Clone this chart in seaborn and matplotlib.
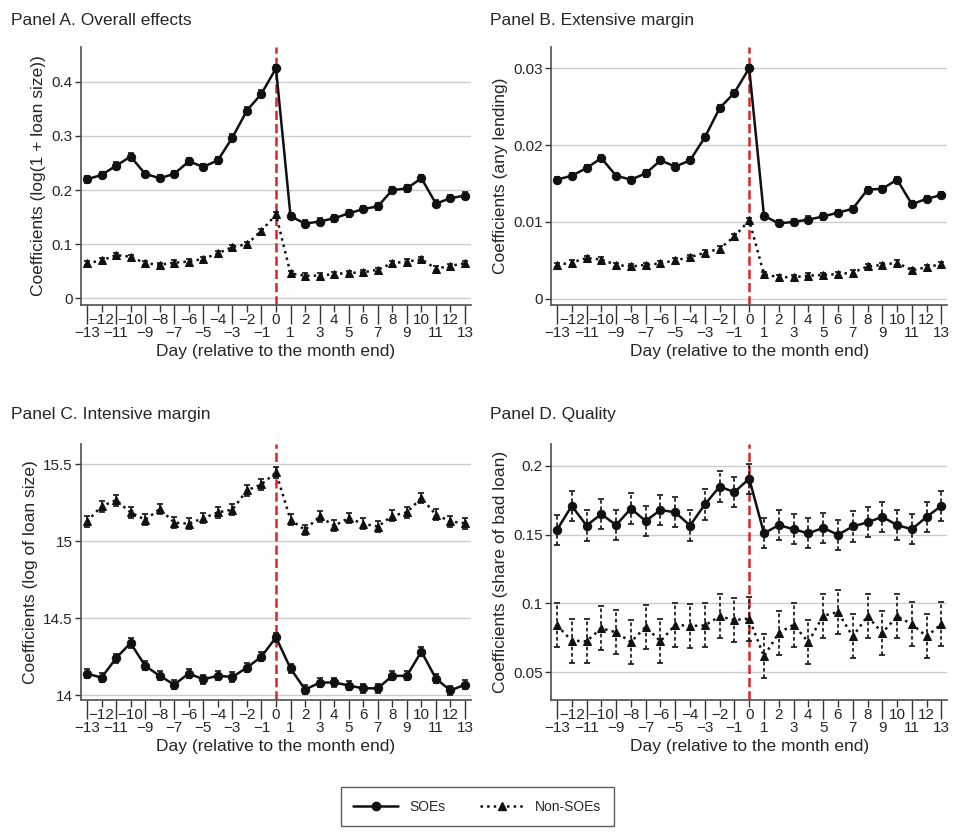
import numpy as np
import matplotlib
matplotlib.use("Agg")
import matplotlib.pyplot as plt
import seaborn as sns
import pandas as pd
from matplotlib.lines import Line2D

days = list(range(-13, 14))

a_soe = [.220, .228, .245, .262, .230, .222, .230, .253, .243, .255, .297, .347, .378, .425,
         .152, .138, .142, .148, .157, .165, .170, .200, .203, .222, .175, .185, .190]
a_non = [.065, .070, .080, .077, .065, .062, .066, .068, .073, .083, .095, .100, .125, .155,
         .046, .042, .042, .045, .047, .048, .053, .065, .068, .072, .055, .060, .065]
b_soe = [.0155, .0160, .0170, .0183, .0160, .0155, .0163, .0180, .0172, .0180, .0210, .0248, .0268, .0300,
         .0108, .0098, .0100, .0103, .0107, .0112, .0117, .0142, .0143, .0155, .0123, .0130, .0135]
b_non = [.0044, .0047, .0053, .0051, .0044, .0042, .0044, .0046, .0050, .0054, .0060, .0065, .0081, .0102,
         .0032, .0028, .0028, .0030, .0031, .0032, .0034, .0042, .0044, .0047, .0037, .0041, .0045]
c_soe = [14.14, 14.113, 14.24, 14.338, 14.19, 14.125, 14.068, 14.14, 14.103, 14.125, 14.118, 14.178, 14.25, 14.375,
         14.173, 14.036, 14.08, 14.083, 14.062, 14.044, 14.044, 14.125, 14.125, 14.283, 14.107, 14.03, 14.068]
c_non = [15.127, 15.226, 15.265, 15.186, 15.138, 15.208, 15.12, 15.112, 15.149, 15.186, 15.204, 15.329, 15.368, 15.445,
         15.138, 15.072, 15.16, 15.099, 15.149, 15.112, 15.094, 15.164, 15.186, 15.28, 15.171, 15.127, 15.116]
d_soe = [.1535, .171, .1567, .165, .157, .169, .160, .168, .1663, .1567, .172, .185, .181, .1908,
         .151, .157, .154, .151, .155, .150, .156, .159, .163, .157, .154, .163, .171]
d_non = [.084, .073, .0725, .082, .079, .072, .083, .0725, .0845, .0837, .084, .0906, .088, .089,
         .0615, .0786, .0845, .072, .091, .0938, .076, .0908, .0786, .0906, .085, .076, .085]

se_a = [.006, .004]
se_b = [.0004, .0003]
se_c = [.03, .035]
se_d = [.011, .016]

panels = [
    ("Panel A. Overall effects", "Coefficients (log(1 + loan size))", a_soe, a_non, se_a,
     [0, .1, .2, .3, .4], ["0", "0.1", "0.2", "0.3", "0.4"], (-0.012, 0.465), False),
    ("Panel B. Extensive margin", "Coefficients (any lending)", b_soe, b_non, se_b,
     [0, .01, .02, .03], ["0", "0.01", "0.02", "0.03"], (-0.0008, 0.0328), False),
    ("Panel C. Intensive margin", "Coefficients (log of loan size)", c_soe, c_non, se_c,
     [14, 14.5, 15, 15.5], ["14", "14.5", "15", "15.5"], (13.97, 15.63), False),
    ("Panel D. Quality", "Coefficients (share of bad loan)", d_soe, d_non, se_d,
     [.05, .1, .15, .2], ["0.05", "0.1", "0.15", "0.2"], (0.030, 0.216), True),
]

sns.set_theme(style="white")
plt.rcParams['font.family'] = ['Liberation Sans', 'DejaVu Sans']

fig = plt.figure(figsize=(9.55, 8.33), dpi=100)
boxes = [(0.085, 0.634, 0.408, 0.31), (0.577, 0.634, 0.415, 0.31),
         (0.085, 0.16, 0.408, 0.307), (0.577, 0.16, 0.415, 0.307)]
title_y = [0.975, 0.975, 0.502, 0.502]

even = [d for d in days if d % 2 == 0]
odd = [d for d in days if d % 2]

def lab(d):
    return str(d).replace("-", "\u2212")

for (title, ylab, soe, non, se, yt, ytl, ylim, dashed_err), box, ty in zip(panels, boxes, title_y):
    ax = fig.add_axes(box)
    df = pd.DataFrame({"day": days * 2, "val": soe + non,
                       "grp": ["SOEs"] * 27 + ["Non-SOEs"] * 27})
    for g, s, ls, mk in [("SOEs", se[0], "-", "o"), ("Non-SOEs", se[1], ":", "^")]:
        sub = df[df.grp == g]
        eb = ax.errorbar(sub.day, sub.val, yerr=s, fmt="none", ecolor="#222222",
                         elinewidth=1.3, capsize=2.5, capthick=1.3, zorder=2)
        if dashed_err:
            for c in eb[2]:
                c.set_linestyle((0, (2, 1.5)))
        sns.lineplot(data=sub, x="day", y="val", ax=ax, color="#111111", linestyle=ls,
                     marker=mk, markersize=6, linewidth=1.8, markeredgecolor="#111111", zorder=3)
    ax.axvline(0, color="#d62728", linestyle="--", linewidth=1.8, zorder=1)
    ax.set_yticks(yt)
    ax.set_yticklabels(ytl, fontsize=11)
    ax.set_ylim(ylim)
    ax.set_xlim(-13.4, 13.4)
    ax.set_xticks(even)
    ax.set_xticklabels([lab(d) for d in even], fontsize=11)
    ax.set_xticks(odd, minor=True)
    ax.set_xticklabels([lab(d) for d in odd], minor=True, fontsize=11)
    ax.tick_params(axis="x", which="major", bottom=True, width=1, length=5, color="#333333", pad=1)
    ax.tick_params(axis="x", which="minor", bottom=True, width=1, length=14, color="#333333", pad=1)
    ax.tick_params(axis="y", left=True, width=1, length=4, color="#333333", pad=2)
    ax.grid(axis="y", which="major", color="#cccccc", linewidth=1)
    for sp in ["top", "right"]:
        ax.spines[sp].set_visible(False)
    for sp in ["left", "bottom"]:
        ax.spines[sp].set_color("#555555")
    ax.set_xlabel("Day (relative to the month end)", fontsize=12.5, labelpad=3)
    ax.set_ylabel(ylab, fontsize=12.5, labelpad=4)
    fig.text(0.012 if box[0] < 0.5 else 0.513, ty, title, fontsize=12.5, ha="left", va="center")
    if ax.get_legend():
        ax.get_legend().remove()

h = [Line2D([], [], color="#111111", marker="o", ls="-", lw=1.8, ms=6),
     Line2D([], [], color="#111111", marker="^", ls=":", lw=1.8, ms=6)]
fig.legend(h, ["SOEs", "Non-SOEs"], loc="lower center", bbox_to_anchor=(0.5, 0.0), ncol=2,
           frameon=True, fancybox=False, edgecolor="#333333", fontsize=10,
           handlelength=3.2, columnspacing=2.5, borderpad=0.9)
fig.savefig("out.png", dpi=100)
